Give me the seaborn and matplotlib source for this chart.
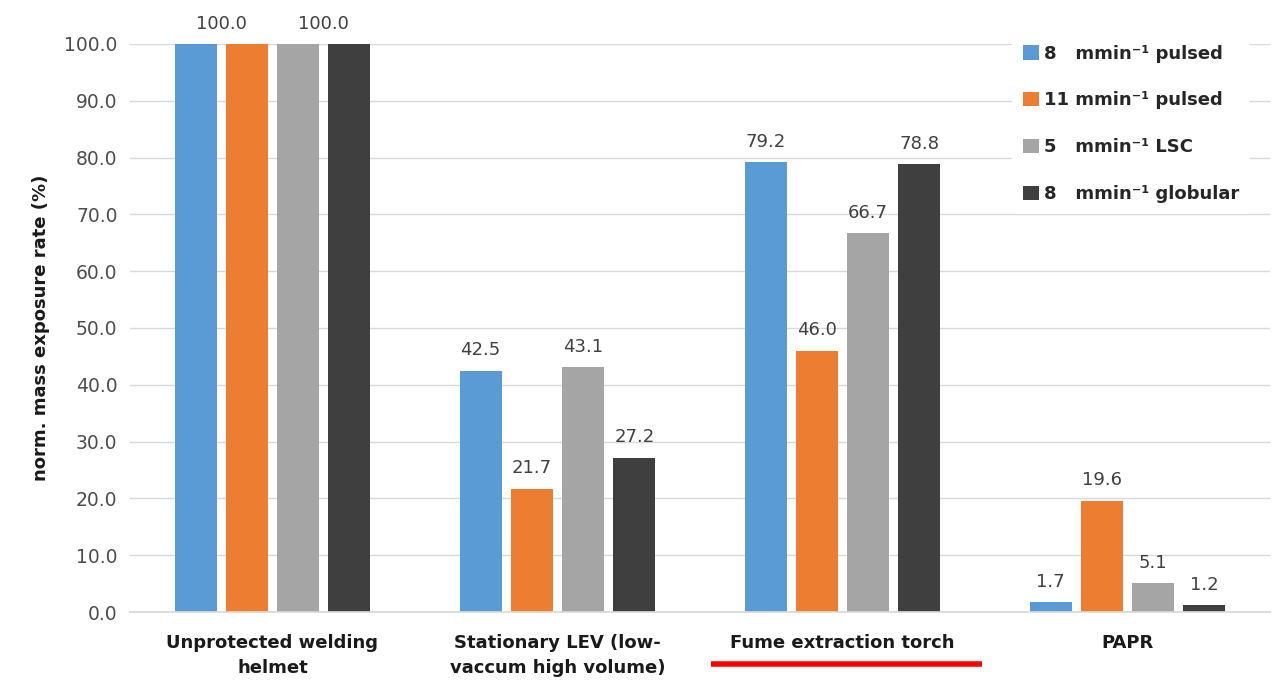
import matplotlib
matplotlib.use("Agg")
import matplotlib.pyplot as plt
import matplotlib.transforms as mtransforms
from matplotlib.lines import Line2D
import seaborn as sns
import pandas as pd

# Protection concepts (x categories)
conditions = [
    "Unprotected welding\nhelmet",
    "Stationary LEV (low-\nvaccum high volume)",
    "Fume extraction torch",
    "PAPR",
]
# Welding parameter series
series = [
    "8   mmin\u207b\u00b9 pulsed",
    "11 mmin\u207b\u00b9 pulsed",
    "5   mmin\u207b\u00b9 LSC",
    "8   mmin\u207b\u00b9 globular",
]
# Normalised mass exposure rate (%) per series, one value per condition
pulsed_8 = [100.0, 42.5, 79.2, 1.7]
pulsed_11 = [100.0, 21.7, 46.0, 19.6]
lsc_5 = [100.0, 43.1, 66.7, 5.1]
globular_8 = [100.0, 27.2, 78.8, 1.2]
y_ticks = [0, 10, 20, 30, 40, 50, 60, 70, 80, 90, 100]

colors = ["#5B9BD5", "#ED7D31", "#A5A5A5", "#3F3F3F"]

values = [pulsed_8, pulsed_11, lsc_5, globular_8]
rows = []
for s, vals in zip(series, values):
    for c, v in zip(conditions, vals):
        rows.append({"condition": c, "speed": s, "rate": v})
df = pd.DataFrame(rows)

sns.set_theme(style="white")
plt.rcParams["font.family"] = ["DejaVu Sans"]

fig = plt.figure(figsize=(12.77, 6.92), dpi=100)
ax = fig.add_axes([130 / 1277, 1 - 612 / 692, 1140 / 1277, 568 / 692])

sns.barplot(
    data=df, x="condition", y="rate", hue="speed",
    order=conditions, hue_order=series, palette=colors,
    width=0.72, gap=0.18, errorbar=None, saturation=1, linewidth=0, ax=ax,
)

ax.set_ylim(0, 100)
ax.set_yticks(y_ticks)
ax.set_yticklabels([f"{t:.1f}" for t in y_ticks], color="#4d4d4d", fontsize=13.5)
ax.yaxis.grid(True, color="#D9D9D9", linewidth=1)
ax.set_axisbelow(True)
for sp in ["top", "right", "left"]:
    ax.spines[sp].set_visible(False)
ax.spines["bottom"].set_color("#D9D9D9")
ax.tick_params(axis="y", length=0, pad=9)
ax.tick_params(axis="x", length=0, pad=16)
for lbl in ax.get_xticklabels():
    lbl.set_fontweight("bold")
    lbl.set_fontsize(13)
    lbl.set_color("#1a1a1a")
    lbl.set_linespacing(1.45)
ax.set_xlabel("")
ax.set_ylabel("norm. mass exposure rate (%)", fontsize=13, fontweight="bold",
              color="#1a1a1a", labelpad=10)

# Value labels above bars
n_cat = len(conditions)
grid = {}
for si, cont in enumerate(ax.containers):
    for ci, bar in enumerate(cont):
        grid[(si, ci)] = bar

for ci in range(n_cat):
    if ci == 0:
        # first group: labels shared between neighbouring equal bars
        for a, b in [(0, 1), (2, 3)]:
            ba, bb = grid[(a, ci)], grid[(b, ci)]
            xc = (ba.get_x() + ba.get_width() / 2 + bb.get_x() + bb.get_width() / 2) / 2
            ax.text(xc, values[a][ci] + 2.0, f"{values[a][ci]:.1f}", ha="center",
                    va="bottom", fontsize=13, color="#404040", clip_on=False)
        continue
    for si in range(len(series)):
        bar = grid[(si, ci)]
        xc = bar.get_x() + bar.get_width() / 2
        ax.text(xc, values[si][ci] + 2.0, f"{values[si][ci]:.1f}", ha="center",
                va="bottom", fontsize=13, color="#404040", clip_on=False)

# Legend
leg = ax.legend(
    loc="upper left", bbox_to_anchor=(0.774, 1.018), borderaxespad=0,
    frameon=True, facecolor="white", edgecolor="none", framealpha=1,
    prop={"weight": "bold", "size": 13}, labelspacing=1.6,
    handlelength=0.85, handleheight=0.85, handletextpad=0.3, borderpad=0.6,
    title=None,
)
for t in leg.get_texts():
    t.set_color("#262626")

# Red underline beneath the fume extraction torch label
trans = mtransforms.blended_transform_factory(ax.transData, fig.transFigure)
fig.add_artist(Line2D([1.54, 2.49], [1 - 664 / 692, 1 - 664 / 692], transform=trans,
                      color="#FF0000", linewidth=4, solid_capstyle="butt"))

fig.savefig("out.png", dpi=100, facecolor="white")
